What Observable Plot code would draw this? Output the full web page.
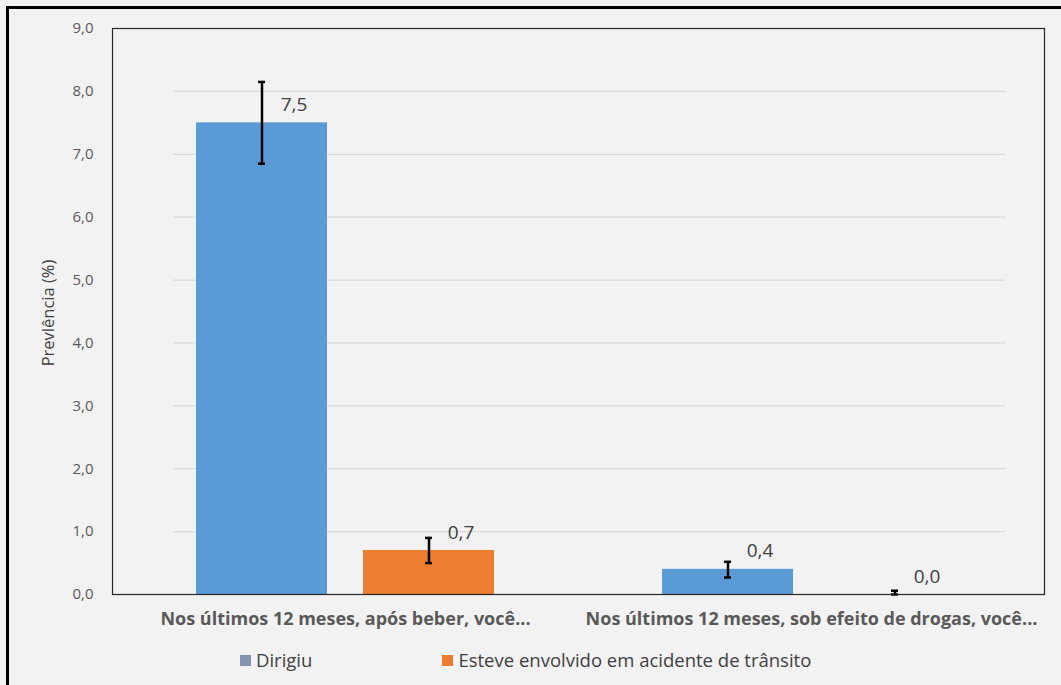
<!DOCTYPE html>
<html>
<head>
<meta charset="utf-8">
<script src="https://cdn.jsdelivr.net/npm/d3@7"></script>
<script src="https://cdn.jsdelivr.net/npm/@observablehq/plot@0.6"></script>
<style>
  html, body { margin: 0; padding: 0; background: #f2f2f2; }
  #wrap { position: relative; width: 1061px; height: 685px; overflow: hidden; background: #f2f2f2; font-family: "Open Sans", sans-serif; }
  #border { position: absolute; left: 6px; top: 6px; width: 1100px; height: 700px; border-left: 3px solid #000; border-top: 3px solid #000; box-sizing: border-box; pointer-events: none; }
  #chart { position: absolute; left: 0; top: 0; }
  #legend { position: absolute; left: 240px; top: 647px; font-size: 18.5px; line-height: 26px; color: #404040; display: flex; align-items: center; }
  .item { display: flex; align-items: center; }
  .sw { width: 11px; height: 11px; margin-right: 5px; }
  #ylabel { position: absolute; left: 47px; top: 313px; transform: translate(-50%, -50%) rotate(-90deg); white-space: nowrap; font-size: 16.5px; color: #404040; }
  g[aria-label="fx-axis tick label"] { font-size: 18px; font-weight: bold; }
  g[aria-label="fx-axis tick label"] text { font-weight: bold; fill: #595959; }
  g[aria-label="y-axis tick label"] { font-size: 15px; }
  g[aria-label="y-axis tick label"] text { fill: #595959; }
</style>
</head>
<body>
<div id="wrap">
  <div id="chart"></div>
  <div id="ylabel"></div>
  <div id="legend"></div>
  <div id="border"></div>
</div>
<script>
const categories = ["Nos últimos 12 meses, após beber, você...", "Nos últimos 12 meses, sob efeito de drogas, você..."];
const series = ["Dirigiu", "Esteve envolvido em acidente de trânsito"];
const dirigiu = [7.5, 0.4];
const dirigiuLow = [6.85, 0.27];
const dirigiuHigh = [8.15, 0.52];
const acidente = [0.7, 0.0];
const acidenteLow = [0.5, 0.0];
const acidenteHigh = [0.9, 0.06];
const yTicks = [0, 1, 2, 3, 4, 5, 6, 7, 8, 9];
const yLabel = "Prevlência (%)";
const colors = ["#5b9bd5", "#ed7d31"];
const legendColors = ["#8193ae", "#ef7b30"];

const rows = [];
categories.forEach((c, i) => {
  rows.push({category: c, series: series[0], value: dirigiu[i], lo: dirigiuLow[i], hi: dirigiuHigh[i]});
  rows.push({category: c, series: series[1], value: acidente[i], lo: acidenteLow[i], hi: acidenteHigh[i]});
});
const fmt = v => d3.format(".1f")(v).replace(".", ",");
const grid = yTicks.slice(1, 9);

const plot = Plot.plot({
  width: 1061,
  height: 640,
  marginTop: 28,
  marginLeft: 111,
  marginRight: 17,
  marginBottom: 46,
  style: {background: "transparent", fontFamily: "Open Sans, sans-serif", fontSize: "12px", color: "#595959"},
  fx: {domain: categories, padding: 0, tickSize: 0, tickPadding: 18, label: null, axis: "bottom"},
  x: {domain: series, paddingInner: 0.214, paddingOuter: 0.5, axis: null},
  y: {domain: [0, 9], ticks: yTicks, tickFormat: fmt, tickSize: 0, tickPadding: 19, label: null, grid: false},
  color: {domain: series, range: colors},
  marks: [
    Plot.ruleY(grid, {y: d => d, fx: () => categories[0], insetLeft: 61, stroke: "#d9d9d9", strokeWidth: 1.2}),
    Plot.ruleY(grid, {y: d => d, fx: () => categories[1], insetRight: 39, stroke: "#d9d9d9", strokeWidth: 1.2}),
    Plot.barY(rows, {fx: "category", x: "series", y: "value", fill: "series"}),
    Plot.ruleX(rows, {fx: "category", x: "series", y1: "lo", y2: "hi", stroke: "#000", strokeWidth: 2.5}),
    Plot.tickY(rows, {fx: "category", x: "series", y: "hi", insetLeft: 62, insetRight: 62, stroke: "#000", strokeWidth: 2.5}),
    Plot.tickY(rows, {fx: "category", x: "series", y: "lo", insetLeft: 62, insetRight: 62, stroke: "#000", strokeWidth: 2.5}),
    Plot.text(rows, {fx: "category", x: "series", y: "value", text: d => fmt(d.value), dx: 32, dy: -18, fontSize: 19, fill: "#404040"}),
    Plot.frame({facet: "super", stroke: "#262626", strokeWidth: 1.2})
  ]
});
document.getElementById("chart").appendChild(plot);
document.getElementById("ylabel").textContent = yLabel;

const legend = document.getElementById("legend");
series.forEach((s, i) => {
  const it = document.createElement("div");
  it.className = "item";
  it.style.marginRight = i === 0 ? "130px" : "0";
  const sw = document.createElement("div");
  sw.className = "sw";
  sw.style.background = legendColors[i];
  const t = document.createElement("span");
  t.textContent = s;
  it.appendChild(sw);
  it.appendChild(t);
  legend.appendChild(it);
});
</script>
</body>
</html>
